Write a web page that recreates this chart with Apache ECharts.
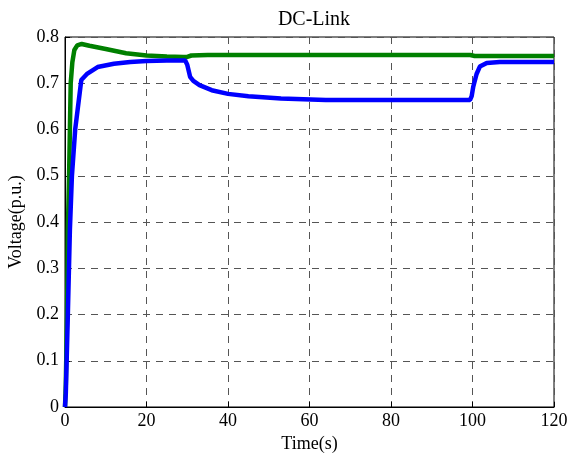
<!DOCTYPE html>
<html>
<head>
<meta charset="utf-8">
<script src="https://cdn.jsdelivr.net/npm/echarts@6/dist/echarts.min.js"></script>
<style>html,body{margin:0;padding:0;background:#fff}#c{width:568px;height:457px}</style>
</head>
<body>
<div id="c"></div>
<script>
var chartTitle = 'DC-Link';
var xName = 'Time(s)';
var yName = 'Voltage(p.u.)';
var greenT = [0, 0.2, 0.5, 0.7, 1.0, 1.2, 1.4, 1.8, 2.3, 3.0, 4.1, 6, 10, 15, 20, 25, 29, 30, 31, 35, 50, 70, 90, 99.5, 100.5, 110, 120];
var greenV = [0, 0.05, 0.2, 0.38, 0.5, 0.6, 0.7, 0.745, 0.772, 0.782, 0.785, 0.781, 0.774, 0.765, 0.760, 0.758, 0.757, 0.757, 0.760, 0.761, 0.761, 0.761, 0.761, 0.761, 0.759, 0.759, 0.759];
var blueT = [0, 0.2, 0.7, 1.2, 1.7, 2.5, 4.0, 5.5, 8, 12, 16, 20, 25, 29.5, 30, 30.7, 31.5, 33, 36, 40, 45, 53, 64, 80, 99.4, 99.8, 100.2, 101, 101.8, 103.5, 106.7, 120];
var blueV = [0, 0.03, 0.2, 0.383, 0.5, 0.6, 0.707, 0.721, 0.735, 0.742, 0.746, 0.748, 0.749, 0.749, 0.74, 0.714, 0.705, 0.696, 0.685, 0.677, 0.672, 0.667, 0.664, 0.664, 0.664, 0.672, 0.693, 0.72, 0.736, 0.744, 0.746, 0.746];

function pairs(t, v) { return t.map(function (x, i) { return [x, v[i]]; }); }
var font = '"Liberation Serif", "Times New Roman", serif';
var chart = echarts.init(document.getElementById('c'));
chart.setOption({
  animation: false,
  title: { text: chartTitle, left: 309, top: 5, textAlign: 'center',
    textStyle: { fontFamily: font, fontSize: 20, fontWeight: 'normal', color: '#000' } },
  grid: { left: 65, right: 14, top: 37, bottom: 50, outerBoundsMode: 'none', containLabel: false,
    show: true, borderColor: '#000', borderWidth: 1, backgroundColor: 'transparent' },
  xAxis: {
    type: 'value', min: 0, max: 120, interval: 20,
    name: xName, nameLocation: 'middle', nameGap: 28,
    nameTextStyle: { fontFamily: font, fontSize: 18, color: '#000' },
    axisLine: { show: true, lineStyle: { color: '#000', width: 1 } },
    axisTick: { show: true, inside: true, length: 5, lineStyle: { color: '#000' } },
    axisLabel: { fontFamily: font, fontSize: 18, color: '#000', margin: 5 },
    splitLine: { show: true, lineStyle: { color: '#555', type: [7, 6], width: 1 } }
  },
  yAxis: {
    type: 'value', min: 0, max: 0.8, interval: 0.1,
    name: yName, nameLocation: 'middle', nameGap: 38, nameRotate: 90,
    nameTextStyle: { fontFamily: font, fontSize: 18, color: '#000' },
    axisLine: { show: true, lineStyle: { color: '#000', width: 1 } },
    axisTick: { show: true, inside: true, length: 5, lineStyle: { color: '#000' } },
    axisLabel: { fontFamily: font, fontSize: 18, color: '#000', margin: 6,
      formatter: function (v) { return +v.toFixed(1) + ''; } },
    splitLine: { show: true, lineStyle: { color: '#555', type: [7, 6], width: 1 } }
  },
  series: [
    { type: 'line', data: pairs(greenT, greenV), showSymbol: false, smooth: false,
      lineStyle: { color: '#008000', width: 4.5 }, itemStyle: { color: '#008000' }, z: 2 },
    { type: 'line', data: pairs(blueT, blueV), showSymbol: false, smooth: false,
      lineStyle: { color: '#0000ff', width: 4.5 }, itemStyle: { color: '#0000ff' }, z: 3 }
  ]
});
</script>
</body>
</html>
